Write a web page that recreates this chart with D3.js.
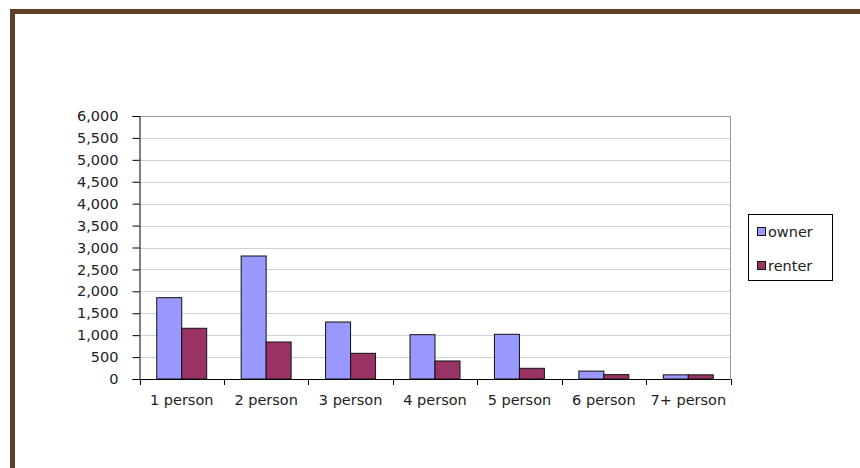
<!DOCTYPE html>
<html>
<head>
<meta charset="utf-8">
<script src="https://cdn.jsdelivr.net/npm/d3@7"></script>
<style>
  html, body { margin: 0; padding: 0; background: #fff; }
  svg { display: block; }
  text { font-family: "DejaVu Sans", Verdana, sans-serif; fill: #222; }
</style>
</head>
<body>
<svg id="chart" width="860" height="468"></svg>
<script>
const categories = ["1 person", "2 person", "3 person", "4 person", "5 person", "6 person", "7+ person"];
const seriesNames = ["owner", "renter"];
const ownerValues = [1855, 2806, 1300, 1011, 1020, 180, 95];
const renterValues = [1157, 844, 586, 411, 244, 100, 95];
const yTicks = [0, 500, 1000, 1500, 2000, 2500, 3000, 3500, 4000, 4500, 5000, 5500, 6000];
const colors = ["#9999ff", "#993366"];

(function () {
const svg = d3.select("#chart");
const FS = 14.5;

// outer brown frame (top and left)
svg.append("rect").attr("x", 10).attr("y", 9).attr("width", 850).attr("height", 5).attr("fill", "#5e4029");
svg.append("rect").attr("x", 10).attr("y", 9).attr("width", 5).attr("height", 459).attr("fill", "#5e4029");

const pLeft = 139.5, pRight = 730.5, pTop = 116, pBottom = 379;

const x = d3.scaleBand().domain(categories).range([pLeft, pRight]).paddingInner(0).paddingOuter(0);
const xs = d3.scaleBand().domain(seriesNames).range([0, x.bandwidth()]).paddingInner(0).paddingOuter(0.69);
const y = d3.scaleLinear().domain([0, 6000]).range([pBottom, pTop]);

// gridlines
svg.append("g").selectAll("line").data(yTicks.filter(d => d > 0)).join("line")
  .attr("x1", pLeft).attr("x2", pRight)
  .attr("y1", d => Math.round(y(d)) + 0.5).attr("y2", d => Math.round(y(d)) + 0.5)
  .attr("stroke", d => d === 6000 ? "#999" : "#c9d3dc").attr("stroke-width", 1);

// right plot border
svg.append("line").attr("x1", pRight).attr("x2", pRight).attr("y1", pTop).attr("y2", pBottom)
  .attr("stroke", "#999");

// bars
const data = categories.map((c, i) => ({ cat: c, vals: [ownerValues[i], renterValues[i]] }));
const groups = svg.append("g").selectAll("g").data(data).join("g")
  .attr("transform", d => `translate(${x(d.cat)},0)`);
groups.selectAll("rect").data(d => d.vals.map((v, j) => ({ name: seriesNames[j], v, j }))).join("rect")
  .attr("x", d => xs(d.name))
  .attr("width", xs.bandwidth())
  .attr("y", d => y(d.v))
  .attr("height", d => pBottom - y(d.v))
  .attr("fill", d => colors[d.j])
  .attr("stroke", "#111")
  .attr("stroke-width", 1);

// y axis
const yAxis = svg.append("g").attr("transform", `translate(${pLeft},0)`)
  .call(d3.axisLeft(y).tickValues(yTicks).tickFormat(d3.format(",")).tickSize(7).tickPadding(14));
yAxis.select(".domain").attr("stroke", "#000");
yAxis.selectAll(".tick line").attr("stroke", "#000");
yAxis.selectAll("text").attr("font-size", FS).attr("fill", "#222")
  .attr("font-family", "'DejaVu Sans', Verdana, sans-serif");

// x axis
const xAxis = svg.append("g").attr("transform", `translate(0,${pBottom})`)
  .call(d3.axisBottom(x).tickSize(0).tickPadding(16));
xAxis.select(".domain").remove();
xAxis.append("line").attr("x1", pLeft).attr("x2", pRight).attr("y1", 0.5).attr("y2", 0.5).attr("stroke", "#000");
xAxis.selectAll(".tick text").attr("font-size", FS).attr("fill", "#222")
  .attr("font-family", "'DejaVu Sans', Verdana, sans-serif");
// category boundary ticks
const bounds = categories.map(c => x(c)).concat([pRight]);
xAxis.append("g").selectAll("line").data(bounds).join("line")
  .attr("x1", d => Math.round(d) + 0.5).attr("x2", d => Math.round(d) + 0.5)
  .attr("y1", 0).attr("y2", 6).attr("stroke", "#000");

// legend
const lg = svg.append("g");
lg.append("rect").attr("x", 748.5).attr("y", 214.5).attr("width", 84).attr("height", 66)
  .attr("fill", "#fff").attr("stroke", "#000");
seriesNames.forEach((n, i) => {
  const yy = 232 + i * 34;
  lg.append("rect").attr("x", 757.5).attr("y", yy - 4.5).attr("width", 8).attr("height", 8)
    .attr("fill", colors[i]).attr("stroke", "#111");
  lg.append("text").attr("x", 768).attr("y", yy).attr("dy", "0.35em")
    .attr("font-size", FS).text(n);
});
})();
</script>
</body>
</html>
